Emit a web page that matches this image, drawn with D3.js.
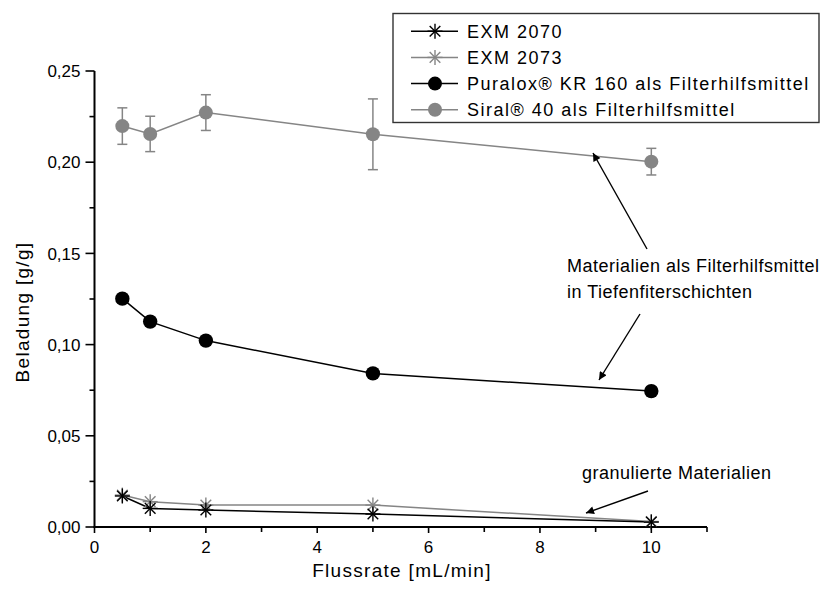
<!DOCTYPE html>
<html>
<head>
<meta charset="utf-8">
<script src="https://cdn.jsdelivr.net/npm/d3@7/dist/d3.min.js"></script>
<style>
  html, body { margin: 0; padding: 0; background: #fff; }
  svg { display: block; font-family: "Liberation Sans", Arial, sans-serif; }
</style>
</head>
<body>
<svg id="chart" width="824" height="595"></svg>
<script>
// Flow rates (mL/min) and loadings (g/g)
const flowRates = [0.5, 1, 2, 5, 10];
const exm2070 = [0.0170, 0.0102, 0.0093, 0.0071, 0.0027];
const exm2073 = [0.0175, 0.0139, 0.0120, 0.0120, 0.0030];
const puralox = [0.1252, 0.1126, 0.1022, 0.0842, 0.0745];
const siral = [0.2198, 0.2155, 0.2272, 0.2153, 0.2003];
const siralErr = [0.0100, 0.0097, 0.0098, 0.0194, 0.0073];

const seriesNames = ["EXM 2070", "EXM 2073", "Puralox® KR 160 als Filterhilfsmittel", "Siral® 40 als Filterhilfsmittel"];
const xTicks = [0, 2, 4, 6, 8, 10];
const xMinorTicks = [1, 3, 5, 7, 9, 11];
const yTicks = [0, 0.05, 0.10, 0.15, 0.20, 0.25];
const yMinorTicks = [0.025, 0.075, 0.125, 0.175, 0.225];
const xTitle = "Flussrate [mL/min]";
const yTitle = "Beladung [g/g]";

const BLACK = "#000";
const GRAY = "#858585";

const svg = d3.select("#chart");
const x = d3.scaleLinear().domain([0, 11]).range([94.5, 707]);
const y = d3.scaleLinear().domain([0, 0.25]).range([527, 71]);

const fmt = v => d3.format(".2f")(v).replace(".", ",");

// Axes
const xAxis = svg.append("g").attr("transform", "translate(0,527)");
xAxis.append("line").attr("x1", x(0) - 1).attr("x2", x(11)).attr("stroke", BLACK).attr("stroke-width", 2);
xAxis.selectAll(".maj").data(xTicks).join("line")
  .attr("x1", d => x(d)).attr("x2", d => x(d)).attr("y1", 0).attr("y2", 6)
  .attr("stroke", BLACK).attr("stroke-width", 1.6);
xAxis.selectAll(".min").data(xMinorTicks).join("line")
  .attr("x1", d => x(d)).attr("x2", d => x(d)).attr("y1", 0).attr("y2", 5)
  .attr("stroke", BLACK).attr("stroke-width", 1.6);
xAxis.selectAll("text").data(xTicks).join("text")
  .attr("x", d => x(d)).attr("y", 26).attr("text-anchor", "middle")
  .attr("font-size", 17).text(d => d);

const yAxis = svg.append("g").attr("transform", "translate(94.5,0)");
yAxis.append("line").attr("y1", y(0) + 1).attr("y2", y(0.25)).attr("stroke", BLACK).attr("stroke-width", 2);
yAxis.selectAll(".maj").data(yTicks).join("line")
  .attr("y1", d => y(d)).attr("y2", d => y(d)).attr("x1", 0).attr("x2", -9)
  .attr("stroke", BLACK).attr("stroke-width", 1.6);
yAxis.selectAll(".min").data(yMinorTicks).join("line")
  .attr("y1", d => y(d)).attr("y2", d => y(d)).attr("x1", 0).attr("x2", -5)
  .attr("stroke", BLACK).attr("stroke-width", 1.6);
yAxis.selectAll("text").data(yTicks).join("text")
  .attr("x", -14).attr("y", d => y(d)).attr("dy", "0.36em").attr("text-anchor", "end")
  .attr("font-size", 17).text(fmt);

svg.append("text").attr("x", 402).attr("y", 577).attr("text-anchor", "middle")
  .attr("font-size", 19).attr("letter-spacing", 1.3).text(xTitle);
svg.append("text").attr("transform", "translate(29,312) rotate(-90)").attr("text-anchor", "middle")
  .attr("font-size", 19).attr("letter-spacing", 1.3).text(yTitle);

// Marker helpers
function star(g, cx, cy, r, color) {
  [0, 45, 90, 135].forEach(a => {
    const rad = a * Math.PI / 180;
    g.append("line")
      .attr("x1", cx - r * Math.cos(rad)).attr("y1", cy - r * Math.sin(rad))
      .attr("x2", cx + r * Math.cos(rad)).attr("y2", cy + r * Math.sin(rad))
      .attr("stroke", color).attr("stroke-width", 1.4);
  });
}

const line = d3.line().x(d => x(d[0])).y(d => y(d[1]));
const pts = vals => flowRates.map((f, i) => [f, vals[i]]);

const plot = svg.append("g");

// Siral error bars
const eb = plot.append("g").attr("stroke", GRAY).attr("stroke-width", 1.5);
flowRates.forEach((f, i) => {
  const cx = x(f), lo = y(siral[i] - siralErr[i]), hi = y(siral[i] + siralErr[i]);
  eb.append("line").attr("x1", cx).attr("x2", cx).attr("y1", lo).attr("y2", hi);
  eb.append("line").attr("x1", cx - 5).attr("x2", cx + 5).attr("y1", lo).attr("y2", lo);
  eb.append("line").attr("x1", cx - 5).attr("x2", cx + 5).attr("y1", hi).attr("y2", hi);
});

// Lines
[[siral, GRAY], [puralox, BLACK], [exm2073, GRAY], [exm2070, BLACK]].forEach(([vals, c]) => {
  plot.append("path").datum(pts(vals)).attr("d", line)
    .attr("fill", "none").attr("stroke", c).attr("stroke-width", 1.5);
});

// Markers
plot.selectAll(".siral").data(pts(siral)).join("circle")
  .attr("cx", d => x(d[0])).attr("cy", d => y(d[1])).attr("r", 7).attr("fill", GRAY);
plot.selectAll(".pura").data(pts(puralox)).join("circle")
  .attr("cx", d => x(d[0])).attr("cy", d => y(d[1])).attr("r", 7.2).attr("fill", BLACK);
pts(exm2073).forEach(d => star(plot, x(d[0]), y(d[1]), 7.5, GRAY));
pts(exm2070).forEach(d => star(plot, x(d[0]), y(d[1]), 7.5, BLACK));

// Annotations with arrows
svg.append("defs").append("marker")
  .attr("id", "head").attr("viewBox", "0 0 10 10").attr("refX", 10).attr("refY", 5)
  .attr("markerWidth", 13).attr("markerHeight", 8).attr("markerUnits", "userSpaceOnUse")
  .attr("orient", "auto")
  .append("path").attr("d", "M0,0 L10,5 L0,10 Z").attr("fill", BLACK);

const arrows = [
  [647, 249, 593, 153],
  [640, 314, 599, 380],
  [648, 491, 586, 513]
];
svg.selectAll(".arrow").data(arrows).join("line")
  .attr("x1", d => d[0]).attr("y1", d => d[1]).attr("x2", d => d[2]).attr("y2", d => d[3])
  .attr("stroke", BLACK).attr("stroke-width", 1.4).attr("marker-end", "url(#head)");

const ann = svg.append("g").attr("font-size", 18).attr("letter-spacing", 0.5);
ann.append("text").attr("x", 567).attr("y", 272).text("Materialien als Filterhilfsmittel");
ann.append("text").attr("x", 567).attr("y", 298).text("in Tiefenfiterschichten");
ann.append("text").attr("x", 582).attr("y", 479).text("granulierte Materialien");

// Legend
const leg = svg.append("g");
leg.append("rect").attr("x", 393).attr("y", 13.5).attr("width", 426).attr("height", 109)
  .attr("fill", "#fff").attr("stroke", "#333").attr("stroke-width", 1.4);
const legColors = [BLACK, GRAY, BLACK, GRAY];
seriesNames.forEach((name, i) => {
  const base = 37.7 + i * 26.2;
  const cy = base - 6.5;
  leg.append("line").attr("x1", 411).attr("x2", 458).attr("y1", cy).attr("y2", cy)
    .attr("stroke", legColors[i]).attr("stroke-width", 1.5);
  if (i < 2) star(leg, 435, cy, 7.5, legColors[i]);
  else leg.append("circle").attr("cx", 435).attr("cy", cy).attr("r", 7).attr("fill", legColors[i]);
  leg.append("text").attr("x", 467).attr("y", base).attr("font-size", 18)
    .attr("letter-spacing", 1.5).text(name);
});
</script>
</body>
</html>
